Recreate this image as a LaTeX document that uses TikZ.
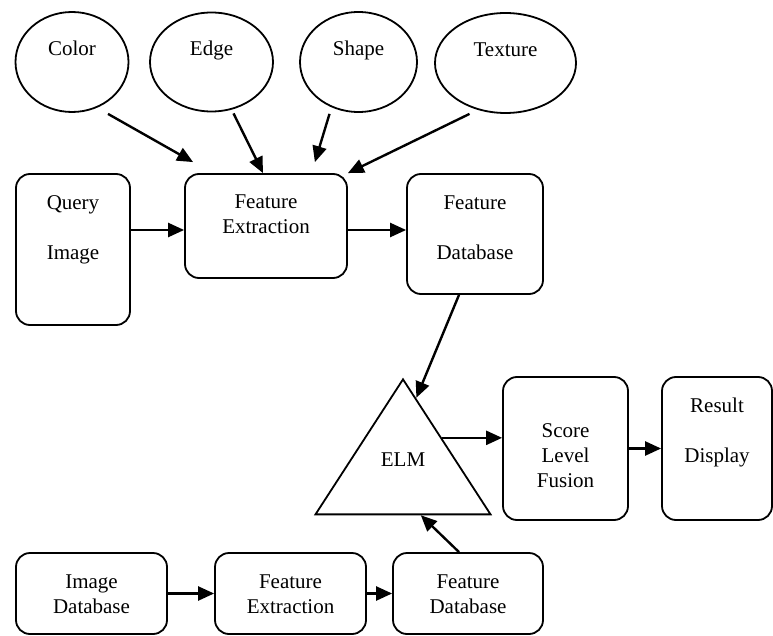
\documentclass[tikz,border=0pt]{standalone}
\usepackage{fontspec}
\setmainfont{Liberation Serif}
\usetikzlibrary{arrows.meta, shapes.geometric, calc}

\begin{document}
\begin{tikzpicture}[x=1pt, y=-1pt, every node/.style={draw=black, line width=1.8pt, font=\fontsize{21}{25}\selectfont, align=center, inner sep=0pt}, procbox/.style={rounded corners=14pt}, cue/.style={ellipse, text height=14, text depth=26}, flow/.style={-{Triangle[length=16pt, width=14pt]}, line width=2.4pt}]
	\useasboundingbox (0,0) rectangle (773,636);
	% Specification of nodes (position, etc.)
	\node (Color)			[cue, minimum width=113, minimum height=100]	at (72,62)		{Color};
	\node (Edge)			[cue, minimum width=123, minimum height=99]		at (211.5,62)	{Edge};
	\node (Shape)			[cue, minimum width=117, minimum height=100]	at (358.5,62)	{Shape};
	\node (Texture)			[cue, minimum width=141, minimum height=100]	at (505.5,63)	{Texture};
	\node (QueryImage)		[procbox, minimum width=114, minimum height=151, text height=85, text depth=66]		at (73,249.5)	{Query\\[25pt]Image};
	\node (FeatExtr)		[procbox, minimum width=162, minimum height=104, text height=60, text depth=44]		at (266,226)	{Feature\\Extraction};
	\node (FeatDb)			[procbox, minimum width=136, minimum height=120, text height=85, text depth=35]		at (475,234)	{Feature\\[25pt]Database};
	\node (ELM)				[isosceles triangle, isosceles triangle stretches, shape border rotate=90, minimum width=175, minimum height=135, text height=14, text depth=26, anchor=apex]	at (403,377)	{ELM};
	\node (ScoreFusion)		[procbox, minimum width=125, minimum height=143, text height=110, text depth=33]	at (565.5,448.5)	{Score\\Level\\Fusion};
	\node (ResultDisplay)	[procbox, minimum width=110, minimum height=143, text height=85, text depth=58]		at (717,448.5)	{Result\\[25pt]Display};
	\node (ImageDb)			[procbox, minimum width=151, minimum height=81, text height=60, text depth=21]		at (91.5,593.5)	{Image\\Database};
	\node (FeatExtr2)		[procbox, minimum width=151, minimum height=81, text height=60, text depth=21]		at (290.5,593.5)	{Feature\\Extraction};
	\node (FeatDb2)			[procbox, minimum width=150, minimum height=81, text height=60, text depth=21]		at (468,593.5)	{Feature\\Database};
	\coordinate (ElmOut) at ($(ELM.apex)!0.44!(ELM.right corner)$);
	\draw[flow]	($(Color.south)+(36,1)$) -- ($(FeatExtr.north west)+(9,-11)$);
	\draw[flow]	($(Edge.south)+(22,1)$) -- ($(FeatExtr.north)+(-3,0)$);
	\draw[flow]	($(Shape.south)+(-29,1)$) -- ($(FeatExtr.north east)+(-33,-11)$);
	\draw[flow]	($(Texture.south)+(-36,0)$) -- (FeatExtr.north east);
	\draw[flow]	($(QueryImage.east |- FeatExtr.west)+(0,4)$) -- ($(FeatExtr.west)+(0,4)$);
	\draw[flow]	($(FeatExtr.east)+(0,4)$) -- ($(FeatExtr.east -| FeatDb.west)+(0,4)$);
	\draw[flow]	($(FeatDb.south)+(-16,0)$) -- ($(ELM.apex)!0.15!(ELM.right corner)$);
	\draw[flow]	(ElmOut) -- (ElmOut -| ScoreFusion.west);
	\draw[flow]	(ScoreFusion) -- (ResultDisplay);
	\draw[flow]	(ImageDb) -- (FeatExtr2);
	\draw[flow]	(FeatExtr2) -- (FeatDb2);
	\draw[flow]	($(FeatDb2.north)+(-9,0)$) -- ($(ELM.left corner)!0.6!(ELM.right corner)$);
\end{tikzpicture}
\end{document}
